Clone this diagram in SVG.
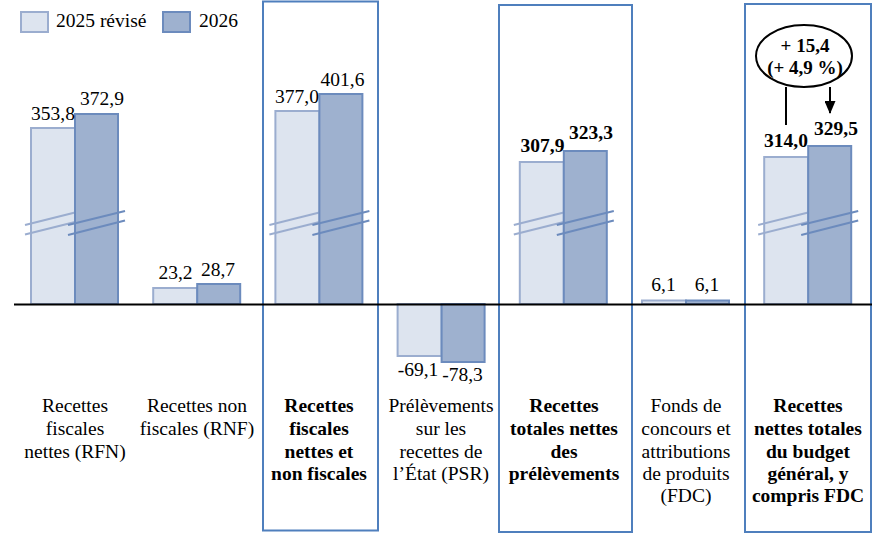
<svg xmlns="http://www.w3.org/2000/svg" width="882" height="535" viewBox="0 0 882 535">
<style>
text{font-family:"Liberation Serif","Times New Roman",serif;font-size:19.5px;fill:#000}
.b{font-weight:bold}
.m{text-anchor:middle}
.l{fill:#dde4ef;stroke:#9badcf;stroke-width:2}
.d{fill:#9eb1cf;stroke:#6c8bbd;stroke-width:2}
.bl{stroke:#9badcf;stroke-width:2;fill:none}
.bd{stroke:#6c8bbd;stroke-width:2;fill:none}
.box{fill:none;stroke:#4f7fbd;stroke-width:2}
</style>
<defs>
<marker id="ah" markerWidth="13" markerHeight="11" refX="12" refY="5.5" orient="auto" markerUnits="userSpaceOnUse" viewBox="0 0 13 11">
<path d="M0,0 L13,5.5 L0,11 Z" fill="#000"/>
</marker>
<g id="brk">
<line class="bl" x1="25" y1="225" x2="75" y2="212.5"/>
<line class="bl" x1="25" y1="234.5" x2="75" y2="222"/>
</g>
</defs>
<rect width="882" height="535" fill="#fff"/>
<g id="legend">
<rect class="l" x="21" y="12" width="27" height="20"/>
<text x="56" y="27">2025 révisé</text>
<rect class="d" x="163" y="12" width="27" height="20"/>
<text x="199" y="27">2026</text>
</g>
<g id="highlight-boxes">
<rect class="box" x="263" y="1.5" width="115" height="529"/>
<rect class="box" x="499" y="5" width="133" height="527"/>
<rect class="box" x="745" y="4" width="126" height="528"/>
</g>
<g id="rfn">
<rect class="l" x="31" y="128" width="44" height="176"/>
<use href="#brk"/>
<rect class="d" x="75" y="114" width="43" height="190"/>
<line class="bd" x1="68" y1="225" x2="125" y2="211"/>
<line class="bd" x1="68" y1="235" x2="125" y2="220.5"/>
<text class="m" x="53" y="120">353,8</text>
<text class="m" x="102" y="105">372,9</text>
<text class="m" x="75" y="412">Recettes</text>
<text class="m" x="75" y="435">fiscales</text>
<text class="m" x="75" y="458">nettes (RFN)</text>
</g>
<g id="rnf">
<rect class="l" x="153.2" y="288" width="44" height="16"/>
<rect class="d" x="197.2" y="284" width="43" height="20"/>
<text class="m" x="175.5" y="279">23,2</text>
<text class="m" x="218" y="276">28,7</text>
<text class="m" x="197" y="412">Recettes non</text>
<text class="m" x="197" y="435">fiscales (RNF)</text>
</g>
<g id="rfn-rnf">
<rect class="l" x="275.4" y="111" width="44" height="193"/>
<use href="#brk" x="244.4"/>
<rect class="d" x="319.4" y="94" width="43" height="210"/>
<line class="bd" x1="312.4" y1="225" x2="369.4" y2="211"/>
<line class="bd" x1="312.4" y1="235" x2="369.4" y2="220.5"/>
<text class="m" x="297" y="103">377,0</text>
<text class="m" x="342.5" y="86">401,6</text>
<text class="m b" x="319" y="412">Recettes</text>
<text class="m b" x="319" y="435">fiscales</text>
<text class="m b" x="319" y="458">nettes et</text>
<text class="m b" x="319" y="480">non fiscales</text>
</g>
<g id="psr">
<rect class="l" x="397.6" y="304" width="44" height="52"/>
<rect class="d" x="441.6" y="304" width="43" height="58"/>
<text class="m" x="418" y="376">-69,1</text>
<text class="m" x="462.5" y="381">-78,3</text>
<text class="m" x="441" y="412">Prélèvements</text>
<text class="m" x="441" y="435">sur les</text>
<text class="m" x="441" y="458">recettes de</text>
<text class="m" x="441" y="480">l’État (PSR)</text>
</g>
<g id="totales-nettes">
<rect class="l" x="519.8" y="162" width="44" height="142"/>
<use href="#brk" x="488.8"/>
<rect class="d" x="563.8" y="151" width="43" height="153"/>
<line class="bd" x1="556.8" y1="225" x2="613.8" y2="211"/>
<line class="bd" x1="556.8" y1="235" x2="613.8" y2="220.5"/>
<text class="m b" x="542.5" y="152">307,9</text>
<text class="m b" x="591" y="139">323,3</text>
<text class="m b" x="564" y="412">Recettes</text>
<text class="m b" x="564" y="435">totales nettes</text>
<text class="m b" x="564" y="458">des</text>
<text class="m b" x="564" y="480">prélèvements</text>
</g>
<g id="fdc">
<rect class="l" x="642" y="300.5" width="44" height="3.5"/>
<rect class="d" x="686" y="300.5" width="43" height="3.5"/>
<text class="m" x="663.5" y="291">6,1</text>
<text class="m" x="707" y="291">6,1</text>
<text class="m" x="686" y="412">Fonds de</text>
<text class="m" x="686" y="435">concours et</text>
<text class="m" x="686" y="458">attributions</text>
<text class="m" x="686" y="480">de produits</text>
<text class="m" x="686" y="502">(FDC)</text>
</g>
<g id="budget-general">
<rect class="l" x="764.2" y="157" width="44" height="147"/>
<use href="#brk" x="733.2"/>
<rect class="d" x="808.2" y="146" width="43" height="158"/>
<line class="bd" x1="801.2" y1="225" x2="858.2" y2="211"/>
<line class="bd" x1="801.2" y1="235" x2="858.2" y2="220.5"/>
<text class="m b" x="786" y="147">314,0</text>
<text class="m b" x="836" y="135">329,5</text>
<text class="m b" x="808" y="412">Recettes</text>
<text class="m b" x="808" y="435">nettes totales</text>
<text class="m b" x="808" y="458">du budget</text>
<text class="m b" x="808" y="480">général, y</text>
<text class="m b" x="808" y="502">compris FDC</text>
</g>
<g id="axis">
<line x1="14" y1="304.5" x2="872" y2="304.5" stroke="#000" stroke-width="2"/>
</g>
<g id="variation">
<ellipse cx="804" cy="56" rx="48" ry="31" fill="#fff" stroke="#000" stroke-width="2"/>
<text class="m b" x="805" y="52" style="font-size:19px">+ 15,4</text>
<text class="m b" x="805" y="74" style="font-size:19px">(+ 4,9 %)</text>
</g>
<g id="connectors">
<line x1="786" y1="87" x2="786" y2="125" stroke="#000" stroke-width="2"/>
<line x1="830" y1="87" x2="830" y2="113" stroke="#000" stroke-width="2" marker-end="url(#ah)"/>
</g>
</svg>
